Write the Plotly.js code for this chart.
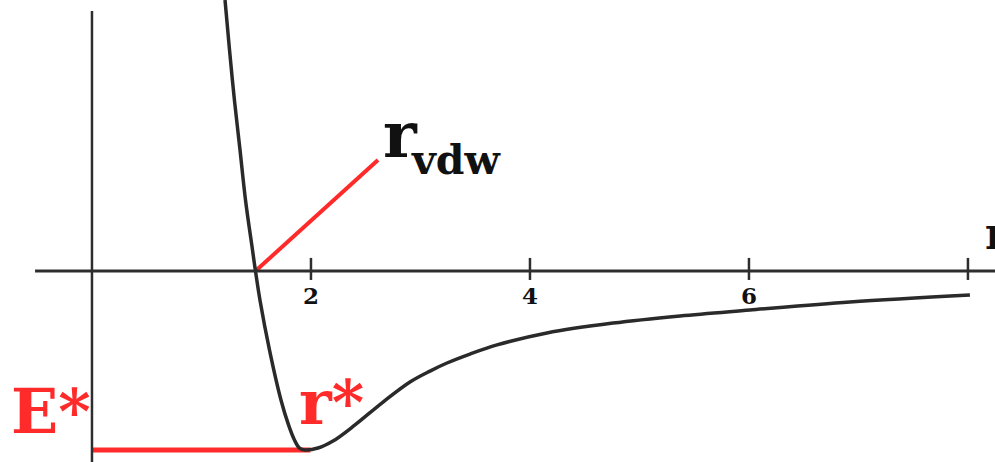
<!DOCTYPE html>
<html>
<head>
<meta charset="utf-8">
<script src="https://cdn.plot.ly/plotly-3.0.1.min.js"></script>
<style>
  html, body { margin: 0; padding: 0; background: #ffffff; }
  #chart { width: 995px; height: 462px; }
</style>
</head>
<body>
<div id="chart"></div>
<script>
// Pair potential E(r): separation r and energy in units of the well depth
const separation = [1.215, 1.256, 1.301, 1.352, 1.402, 1.466, 1.493, 1.534, 1.621, 1.726,
                    1.795, 1.849, 1.895, 1.945, 2.064, 2.201, 2.402, 2.658, 2.904, 3.087,
                    3.242, 3.452, 3.699, 4.155, 4.758, 5.370, 6.009, 6.922, 8.018];
const energy = [1.514, 1.235, 0.955, 0.676, 0.397, 0.117, 0.000, -0.162, -0.441, -0.721,
                -0.860, -0.944, -0.989, -1.000, -0.989, -0.950, -0.860, -0.732, -0.620, -0.559,
                -0.514, -0.464, -0.413, -0.346, -0.291, -0.251, -0.218, -0.173, -0.134];

// axis ticks
const tickValues = [2, 4, 6, 8];
const tickLabels = ['2', '4', '6', ''];

// characteristic quantities
const rVdw = 1.493;          // zero crossing of E(r)
const rStar = 1.945;         // equilibrium separation
const eStar = -1.0;          // well depth
const rVdwPointer = [2.612, 0.620]; // end of the r_vdw leader line

const axisColor = '#2e2e2e';
const curveColor = '#2a2a2a';
const red = '#ff2a2a';
const labelFont = 'DejaVu Serif, Liberation Serif, serif';

const xRange = [-0.840, 8.247];
const yRange = [-1.067, 1.514];

const shapes = [
  // horizontal r axis
  { type: 'line', xref: 'x', yref: 'y', x0: -0.52, x1: xRange[1], y0: 0, y1: 0,
    line: { color: axisColor, width: 3 } },
  // vertical E axis
  { type: 'line', xref: 'x', yref: 'y', x0: 0, x1: 0, y0: yRange[0], y1: 1.452,
    line: { color: axisColor, width: 2.5 } }
];
tickValues.forEach(v => {
  shapes.push({ type: 'line', xref: 'x', yref: 'y', x0: v, x1: v, y0: 0.073, y1: -0.05,
                line: { color: axisColor, width: 2.5 } });
});

const annotations = tickValues.map((v, i) => ({
  x: v, y: -0.135, xref: 'x', yref: 'y', text: tickLabels[i], showarrow: false,
  xanchor: 'center', yanchor: 'middle',
  font: { family: labelFont, size: 23, color: '#111111', weight: 'bold' }
}));

annotations.push(
  { x: -0.757, y: -0.783, xref: 'x', yref: 'y', text: 'E*', showarrow: false,
    xanchor: 'left', yanchor: 'middle',
    font: { family: labelFont, size: 62, color: red, weight: 'bold' } },
  { x: 1.873, y: -0.735, xref: 'x', yref: 'y', text: 'r*', showarrow: false,
    xanchor: 'left', yanchor: 'middle',
    font: { family: labelFont, size: 62, color: red, weight: 'bold' } },
  { x: 2.640, y: 0.760, xref: 'x', yref: 'y', text: 'r', showarrow: false,
    xanchor: 'left', yanchor: 'middle',
    font: { family: labelFont, size: 64, color: '#111111', weight: 'bold' } },
  { x: 2.895, y: 0.622, xref: 'x', yref: 'y', text: 'vdw', showarrow: false,
    xanchor: 'left', yanchor: 'middle',
    font: { family: labelFont, size: 41, color: '#111111', weight: 'bold' } },
  { x: 8.137, y: 0.212, xref: 'x', yref: 'y', text: 'r', showarrow: false,
    xanchor: 'left', yanchor: 'middle',
    font: { family: labelFont, size: 44, color: '#111111', weight: 'bold' } }
);

const traces = [
  // E* level from the axis to the minimum
  { x: [0, rStar + 0.05], y: [eStar, eStar], mode: 'lines', hoverinfo: 'skip',
    line: { color: red, width: 5 } },
  // leader line from the zero crossing to the r_vdw label
  { x: [rVdw, rVdwPointer[0]], y: [0, rVdwPointer[1]], mode: 'lines', hoverinfo: 'skip',
    line: { color: red, width: 4 } },
  // the potential curve
  { x: separation, y: energy, mode: 'lines',
    line: { color: curveColor, width: 3.5, shape: 'spline', smoothing: 1 } }
];

const layout = {
  width: 995, height: 462,
  margin: { l: 0, r: 0, t: 0, b: 0 },
  paper_bgcolor: '#ffffff', plot_bgcolor: '#ffffff',
  showlegend: false,
  xaxis: { range: xRange, visible: false, fixedrange: true },
  yaxis: { range: yRange, visible: false, fixedrange: true },
  shapes: shapes,
  annotations: annotations
};

Plotly.newPlot('chart', traces, layout, { staticPlot: true, displayModeBar: false });
</script>
</body>
</html>
